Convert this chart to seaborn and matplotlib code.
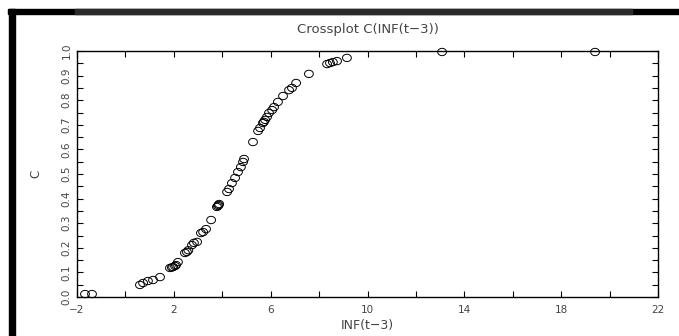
import numpy as np
import pandas as pd
import matplotlib
matplotlib.use("Agg")
import matplotlib.pyplot as plt
from matplotlib.patches import Rectangle
from matplotlib.path import Path
from matplotlib.ticker import FixedLocator, MultipleLocator
import seaborn as sns

# ---- data ----
inf_t3 = [-1.67, -1.38, 0.60, 0.73, 0.93, 1.14, 1.43, 1.84, 1.92, 1.97, 2.05, 2.09,
          2.17, 2.46, 2.54, 2.60, 2.75, 2.83, 2.96, 3.12, 3.21, 3.33, 3.54, 3.78,
          3.82, 3.85, 3.87, 4.20, 4.28, 4.40, 4.53, 4.65, 4.77, 4.86, 4.90, 5.27,
          5.48, 5.56, 5.68, 5.72, 5.77, 5.85, 5.93, 6.06, 6.14, 6.30, 6.51, 6.76,
          6.88, 7.05, 7.58, 8.33, 8.45, 8.57, 8.74, 9.15, 13.08, 19.40]
c_vals = [0.012, 0.012, 0.049, 0.057, 0.065, 0.069, 0.081, 0.118, 0.120, 0.122, 0.126, 0.130,
          0.142, 0.179, 0.183, 0.190, 0.211, 0.220, 0.224, 0.260, 0.264, 0.276, 0.313, 0.366,
          0.370, 0.374, 0.378, 0.427, 0.439, 0.463, 0.484, 0.508, 0.528, 0.549, 0.561, 0.630,
          0.675, 0.687, 0.707, 0.712, 0.720, 0.732, 0.748, 0.760, 0.772, 0.793, 0.817, 0.841,
          0.850, 0.870, 0.907, 0.947, 0.951, 0.955, 0.959, 0.972, 0.996, 0.996]

x_labels = ["\u22122", "2", "6", "10", "14", "18", "22"]
x_major = [-2, 2, 6, 10, 14, 18, 22]
y_labels = ["0.0", "0.1", "0.2", "0.3", "0.4", "0.5", "0.6", "0.7", "0.8", "0.9", "1.0"]
y_major = [0.0, 0.1, 0.2, 0.3, 0.4, 0.5, 0.6, 0.7, 0.8, 0.9, 1.0]

title_text = "Crossplot C(INF(t\u22123))"
x_title = "INF(t\u22123)"
y_title = "C"

df = pd.DataFrame({"INF(t-3)": inf_t3, "C": c_vals})

sns.set_style("ticks")
plt.rcParams["font.family"] = ["DejaVu Sans"]

fig = plt.figure(figsize=(6.79, 3.36), dpi=100)
fig.patch.set_facecolor("white")
ax = fig.add_axes([77 / 679, 1 - 297 / 336, 581 / 679, 246 / 336])

# slightly wide elliptical open marker
t = np.linspace(0, 2 * np.pi, 60)
ell = Path(np.column_stack([1.2 * np.cos(t), np.sin(t)]), closed=True)

sns.scatterplot(data=df, x="INF(t-3)", y="C", ax=ax, marker=ell, s=40,
                facecolor="none", edgecolor="black", linewidth=0.7, clip_on=False)

ax.set_xlim(-2, 22)
ax.set_ylim(0, 1.0)
ax.xaxis.set_major_locator(FixedLocator(x_major))
ax.xaxis.set_minor_locator(FixedLocator([0, 4, 8, 12, 16, 20]))
ax.set_xticklabels(x_labels)
ax.yaxis.set_major_locator(FixedLocator(y_major))
ax.yaxis.set_minor_locator(MultipleLocator(0.05))
ax.set_yticklabels(y_labels, rotation=90, va="center")

ax.tick_params(which="both", direction="in", top=True, right=True,
               length=4, width=0.8, color="black", labelsize=7.5,
               labelcolor="#444444")
ax.tick_params(axis="x", pad=6)
ax.tick_params(axis="y", pad=4)
for sp in ax.spines.values():
    sp.set_visible(True)
    sp.set_color("black")
    sp.set_linewidth(1.0)

ax.set_xlabel(x_title, fontsize=9, color="#444444", labelpad=3)
ax.set_ylabel(y_title, fontsize=8.5, color="#444444", labelpad=14)
ax.set_title(title_text, fontsize=9.5, color="#444444", pad=13)

# scan frame bars
fig.add_artist(Rectangle((8 / 679, 1 - 14 / 336), 671 / 679, 5 / 336,
                         transform=fig.transFigure, color="black", zorder=5))
fig.add_artist(Rectangle((75 / 679, 1 - 14 / 336), 557 / 679, 5 / 336,
                         transform=fig.transFigure, color="#2b2b2b", zorder=6))
fig.add_artist(Rectangle((9 / 679, 0), 6 / 679, 1 - 9 / 336,
                         transform=fig.transFigure, color="black", zorder=5))

fig.savefig("out.png", dpi=100, facecolor="white")
